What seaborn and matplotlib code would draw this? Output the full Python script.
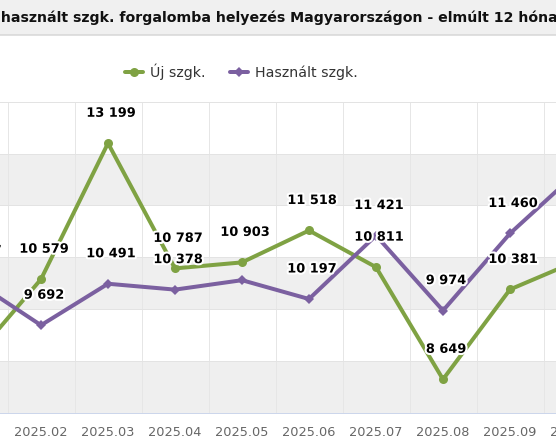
import matplotlib
matplotlib.use("Agg")
import matplotlib.pyplot as plt
import matplotlib.patheffects as pe
from matplotlib.patches import Rectangle
from matplotlib.lines import Line2D
from matplotlib.ticker import FixedLocator
import seaborn as sns
import numpy as np
import pandas as pd

# ---------------- data ----------------
months = ["2025.01", "2025.02", "2025.03", "2025.04", "2025.05",
          "2025.06", "2025.07", "2025.08", "2025.09", "2025.10"]
uj_szgk = [9060, 10579, 13199, 10787, 10903, 11518, 10811, 8649, 10381, 10930]
hasznalt_szgk = [10547, 9692, 10491, 10378, 10560, 10197, 11421, 9974, 11460, 12640]
hasznalt_label_hidden = ["2025.05"]
series_names = ["Új szgk.", "Használt szgk."]
title_text = "Új és használt szgk. forgalomba helyezés Magyarországon - elmúlt 12 hónap"

GREEN = "#7fa243"
PURPLE = "#7b60a0"

W, H = 556, 444
PX = 0.72  # points per pixel at dpi 100

sns.set_style("white")
plt.rcParams["font.family"] = ["DejaVu Sans"]

fig = plt.figure(figsize=(W / 100, H / 100), dpi=100)

# title bar
fig.patches.append(Rectangle((0, 1 - 35 / H), 1, 35 / H, transform=fig.transFigure,
                             facecolor="#f0f0f0", edgecolor="none", zorder=0))
fig.lines.append(Line2D([0, 1], [1 - 35.5 / H, 1 - 35.5 / H], transform=fig.transFigure,
                        color="#d6d6d6", lw=1.5 * PX))

# plot area (extends beyond the visible figure, as in the cropped reference)
left_px = -59.5
ax = fig.add_axes([left_px / W, 31 / H, 670 / W, 311.3 / H])

df = pd.DataFrame({"idx": np.arange(len(months)), "uj": uj_szgk, "hasznalt": hasznalt_szgk})

for lo, hi in [(8000, 9000), (10000, 11000), (12000, 13000)]:
    ax.axhspan(lo, hi, color="#efefef", zorder=0, lw=0)

sns.lineplot(data=df, x="idx", y="uj", ax=ax, color=GREEN, lw=4 * PX, marker="o",
             markersize=6.5, markeredgewidth=0, zorder=3, sort=False)
sns.lineplot(data=df, x="idx", y="hasznalt", ax=ax, color=PURPLE, lw=4 * PX, marker="D",
             markersize=5, markeredgewidth=0, zorder=4, sort=False)

ax.set_xlim(-0.5, len(months) - 0.5)
ax.set_ylim(8000, 14000)
ax.set_xlabel("")
ax.set_ylabel("")

ax.set_xticks(np.arange(len(months)))
ax.set_xticklabels(months)
ax.xaxis.set_minor_locator(FixedLocator(np.arange(len(months) + 1) - 0.5))
ax.set_yticks(np.arange(8000, 14001, 1000))
ax.set_yticklabels([])
ax.tick_params(axis="x", which="major", length=0, pad=9.0, labelsize=9.3, labelcolor="#666666")
ax.tick_params(axis="x", which="minor", length=11 * PX, width=PX, color="#ccd6eb", direction="out")
ax.tick_params(axis="y", length=0)

ax.set_axisbelow(True)
ax.grid(axis="y", which="major", color="#e3e3e3", lw=PX, zorder=0.5)
ax.grid(axis="x", which="minor", color="#e6e6e6", lw=PX, zorder=0.5)
ax.grid(axis="x", which="major", visible=False)

for s in ["top", "left", "right"]:
    ax.spines[s].set_visible(False)
ax.spines["bottom"].set_color("#ccd6eb")
ax.spines["bottom"].set_linewidth(PX)

def fmt(v):
    return f"{v:,}".replace(",", " ")

outline = [pe.withStroke(linewidth=3, foreground="white")]
for i, m in enumerate(months):
    for vals, hidden in [(uj_szgk, []), (hasznalt_szgk, hasznalt_label_hidden)]:
        if m in hidden:
            continue
        ax.annotate(fmt(vals[i]), (i, vals[i]), xytext=(3 * PX, 30 * PX),
                    textcoords="offset points", ha="center", va="center",
                    fontsize=9.3, fontweight="bold", color="#000000",
                    path_effects=outline, zorder=6, annotation_clip=False)

# legend
handles = [Line2D([], [], color=GREEN, lw=4 * PX, marker="o", markersize=6.5, markeredgewidth=0),
           Line2D([], [], color=PURPLE, lw=4 * PX, marker="D", markersize=5, markeredgewidth=0)]
fig.legend(handles, series_names, loc="center", bbox_to_anchor=(241.5 / W, 1 - 71.5 / H),
           ncol=2, frameon=False, fontsize=10.2, handlelength=1.3, handletextpad=0.5,
           columnspacing=1.7, labelcolor="#333333")

# title (cropped on both sides like the reference)
TITLE_FS = 10.2
renderer = fig.canvas.get_renderer()
tmp1 = fig.text(0, 0, "Új és h", fontsize=TITLE_FS, fontweight="bold")
tmp2 = fig.text(0, 0, "h", fontsize=TITLE_FS, fontweight="bold")
offset = tmp1.get_window_extent(renderer).width - tmp2.get_window_extent(renderer).width
tmp1.remove()
tmp2.remove()
fig.text((1 - offset) / W, 1 - 17 / H, title_text, fontsize=TITLE_FS, fontweight="bold",
         color="#111111", ha="left", va="center")

fig.savefig("out.png", dpi=100)
